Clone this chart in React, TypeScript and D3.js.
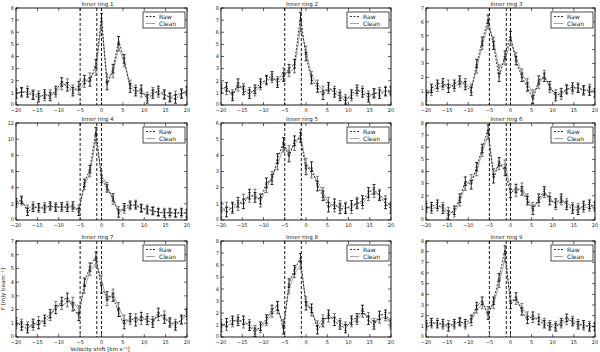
import React from 'react';
import * as d3 from 'd3';

// channel velocities (km/s)
const velocity = [-20, -18.7, -17.3, -16, -14.7, -13.3, -12, -10.7, -9.3, -8, -6.7, -5.3, -4, -2.7, -1.3, 0,
  1.3, 2.7, 4, 5.3, 6.7, 8, 9.3, 10.7, 12, 13.3, 14.7, 16, 17.3, 18.7, 20];

const raw1 = [0.9, 1.1, 1.0, 0.8, 0.6, 0.9, 0.7, 1.2, 1.9, 1.5, 1.1, 1.6, 2.1, 1.9, 3.4, 7.2, 1.6, 3.0, 5.3, 3.8, 1.4, 1.1, 1.3, 0.5, 0.9, 1.2, 0.9, 0.6, 0.5, 0.9, 1.2];
const clean1 = [1.0, 1.0, 1.2, 0.9, 0.8, 0.7, 0.9, 1.0, 1.6, 1.8, 1.3, 1.2, 1.8, 2.3, 2.8, 6.8, 2.2, 2.6, 4.8, 3.5, 1.7, 1.3, 1.0, 0.7, 1.1, 1.0, 0.8, 0.7, 0.8, 1.0, 1.1];
const raw2 = [1.3, 1.5, 0.7, 1.8, 1.2, 0.9, 1.3, 1.8, 2.1, 2.4, 1.8, 2.3, 3.0, 3.4, 7.3, 4.0, 2.1, 1.4, 0.8, 1.5, 1.0, 0.7, 0.3, 0.9, 1.3, 1.0, 0.6, 1.0, 0.9, 1.1, 1.2];
const clean2 = [1.5, 1.2, 0.9, 1.5, 1.4, 1.1, 1.1, 1.6, 2.0, 2.2, 2.0, 2.7, 2.7, 3.0, 6.4, 4.5, 2.4, 1.7, 1.2, 1.3, 1.2, 0.9, 0.5, 0.7, 1.1, 1.2, 0.8, 0.9, 1.1, 1.2, 1.1];
const raw3 = [0.6, 1.2, 1.5, 1.6, 1.2, 1.5, 1.8, 1.4, 1.0, 3.0, 4.6, 6.2, 4.3, 2.0, 3.6, 5.0, 3.2, 2.0, 1.3, 0.4, 1.8, 2.0, 1.4, 0.6, 0.9, 1.1, 1.3, 1.2, 1.1, 1.0, 0.9];
const clean3 = [0.8, 1.0, 1.3, 1.4, 1.5, 1.3, 1.6, 1.6, 1.2, 2.6, 4.3, 5.8, 4.6, 2.6, 3.2, 4.6, 3.5, 2.3, 1.6, 0.8, 1.5, 2.2, 1.2, 0.8, 0.7, 1.2, 1.1, 1.3, 1.0, 1.2, 0.8];
const raw4 = [2.2, 2.5, 1.0, 1.5, 1.6, 1.4, 1.8, 1.5, 1.7, 1.5, 1.8, 1.0, 4.6, 6.3, 11.0, 5.1, 3.9, 2.8, 0.8, 1.6, 1.9, 1.8, 1.5, 1.2, 1.1, 1.0, 0.8, 1.0, 0.8, 1.0, 0.8];
const clean4 = [2.0, 2.3, 1.4, 1.8, 1.4, 1.7, 1.6, 1.7, 1.5, 1.8, 1.5, 1.4, 4.2, 5.8, 10.0, 5.6, 4.2, 2.4, 1.2, 1.3, 1.7, 2.0, 1.4, 1.4, 1.2, 0.9, 1.0, 0.8, 0.9, 0.8, 0.9];
const raw5 = [0.8, 0.5, 0.8, 1.1, 1.0, 1.6, 1.4, 1.3, 2.3, 2.5, 3.8, 4.8, 3.9, 4.9, 5.1, 3.1, 3.3, 2.1, 1.5, 0.8, 1.0, 0.7, 0.7, 0.9, 1.0, 1.2, 1.7, 1.9, 1.5, 1.0, 0.7];
const clean5 = [0.5, 0.8, 0.7, 0.9, 1.3, 1.4, 1.6, 1.1, 2.0, 2.7, 3.4, 4.5, 4.3, 4.6, 5.3, 3.5, 2.9, 2.4, 1.7, 1.1, 0.8, 0.9, 0.8, 0.7, 1.1, 1.0, 1.5, 1.7, 1.6, 1.2, 0.8];
const raw6 = [1.0, 1.1, 1.3, 0.9, 0.4, 0.8, 1.8, 3.2, 2.9, 4.4, 5.9, 7.5, 3.4, 4.8, 4.0, 2.2, 2.6, 2.4, 1.6, 0.8, 1.8, 2.4, 1.6, 1.4, 1.8, 1.2, 0.9, 0.8, 1.2, 1.3, 1.1];
const clean6 = [1.2, 0.9, 1.1, 1.1, 0.7, 0.6, 1.5, 2.8, 3.4, 4.0, 5.6, 7.0, 3.9, 4.5, 4.6, 2.6, 2.3, 2.7, 1.8, 1.1, 1.5, 2.2, 1.9, 1.2, 1.6, 1.4, 1.1, 1.0, 1.0, 1.1, 1.2];
const raw7 = [1.1, 0.8, 0.6, 1.0, 0.9, 1.3, 1.7, 2.0, 2.6, 2.9, 2.2, 1.5, 4.0, 5.1, 5.9, 3.5, 3.0, 2.9, 1.8, 0.9, 1.4, 1.1, 1.5, 1.2, 1.0, 1.8, 1.3, 1.1, 0.8, 1.3, 1.8];
const clean7 = [0.9, 1.0, 0.8, 0.8, 1.2, 1.1, 1.5, 2.3, 2.3, 2.5, 2.6, 2.0, 3.5, 4.8, 5.4, 4.2, 2.6, 3.2, 2.2, 1.3, 1.2, 1.4, 1.2, 1.4, 1.2, 1.5, 1.6, 1.0, 1.0, 1.2, 1.6];
const raw8 = [0.8, 1.2, 1.4, 1.3, 1.4, 0.9, 0.4, 0.9, 1.5, 2.3, 2.6, 0.6, 4.5, 5.6, 6.6, 2.6, 2.4, 0.6, 1.2, 1.9, 1.3, 1.0, 0.7, 1.4, 1.6, 2.3, 1.4, 1.0, 1.8, 1.9, 1.2];
const clean8 = [1.1, 0.9, 1.2, 1.5, 1.1, 1.1, 0.6, 0.7, 1.3, 2.0, 2.3, 1.1, 4.0, 5.3, 6.0, 3.0, 2.1, 1.0, 1.5, 1.6, 1.6, 1.2, 0.9, 1.2, 1.4, 2.0, 1.7, 1.2, 1.5, 1.7, 1.0];
const raw9 = [1.2, 1.4, 1.2, 1.3, 0.9, 1.3, 1.4, 1.3, 1.7, 2.9, 3.4, 2.0, 3.4, 5.6, 8.2, 3.0, 3.8, 2.4, 1.6, 2.0, 1.5, 1.2, 1.0, 0.9, 1.4, 1.8, 1.4, 1.1, 1.2, 0.9, 1.0];
const clean9 = [1.0, 1.2, 1.4, 1.1, 1.2, 1.1, 1.5, 1.1, 1.4, 2.6, 3.0, 2.5, 3.0, 5.0, 7.4, 3.5, 3.4, 2.8, 2.0, 1.7, 1.8, 1.4, 1.2, 1.1, 1.2, 1.5, 1.6, 1.3, 1.0, 1.1, 0.9];

const rawSeries = [raw1, raw2, raw3, raw4, raw5, raw6, raw7, raw8, raw9];
const cleanSeries = [clean1, clean2, clean3, clean4, clean5, clean6, clean7, clean8, clean9];
const noise = [0.35, 0.35, 0.3, 0.45, 0.3, 0.35, 0.3, 0.35, 0.35];
const yMax = [8, 8, 7, 12, 6, 8, 7, 8, 9];
const yStep = [1, 1, 1, 2, 1, 1, 1, 1, 1];
const titles = ['Inner ring 1', 'Inner ring 2', 'Inner ring 3', 'Inner ring 4', 'Inner ring 5',
  'Inner ring 6', 'Inner ring 7', 'Inner ring 8', 'Inner ring 9'];
// reference velocities marked with dashed lines, per column
const markers = [[-5, -1.1, 0], [-5, -1.1], [-5, -1, 0]];

const colX = [[16, 187], [221, 391], [426, 595]];
const rowY = [[8, 105], [123, 220], [241, 337]];
const FONT = 'DejaVu Sans, sans-serif';

function Panel({ k }: { k: number }) {
  const r = Math.floor(k / 3);
  const c = k % 3;
  const [x0, x1] = colX[c];
  const [y0, y1] = rowY[r];
  const x = d3.scaleLinear().domain([-20, 20]).range([x0, x1]);
  const y = d3.scaleLinear().domain([0, yMax[k]]).range([y1, y0]);
  const line = d3.line<number>().x((_, i) => x(velocity[i])).y(d => y(d));
  const xt = d3.range(-20, 21, 5);
  const yt = d3.range(0, yMax[k] + 0.001, yStep[k]);
  const fmt = d3.format('d');
  const err = noise[k];

  const errorBars = (vals: number[], color: string) =>
    vals.map((v, i) => {
      const cx = x(velocity[i]);
      const ya = y(Math.max(0, v - err));
      const yb = y(v + err);
      return (
        <g key={i} stroke={color} strokeWidth={0.9}>
          <line x1={cx} x2={cx} y1={ya} y2={yb} />
          <line x1={cx - 1.5} x2={cx + 1.5} y1={ya} y2={ya} />
          <line x1={cx - 1.5} x2={cx + 1.5} y1={yb} y2={yb} />
        </g>
      );
    });

  return (
    <g>
      <defs>
        <clipPath id={`clip${k}`}>
          <rect x={x0} y={y0} width={x1 - x0} height={y1 - y0} />
        </clipPath>
      </defs>
      <g clipPath={`url(#clip${k})`}>
        {markers[c].map(m => (
          <line key={m} x1={x(m)} x2={x(m)} y1={y0} y2={y1} stroke="#000" strokeWidth={0.9} strokeDasharray="3,2" />
        ))}
        <path d={line(cleanSeries[k]) || ''} fill="none" stroke="#8a8a8a" strokeWidth={0.8} />
        {errorBars(cleanSeries[k], '#666')}
        <path d={line(rawSeries[k]) || ''} fill="none" stroke="#000" strokeWidth={0.8} strokeDasharray="2,1.5" />
        {errorBars(rawSeries[k], '#111')}
      </g>
      <rect x={x0} y={y0} width={x1 - x0} height={y1 - y0} fill="none" stroke="#000" strokeWidth={0.9} />
      {xt.map(t => (
        <g key={t}>
          <line x1={x(t)} x2={x(t)} y1={y1} y2={y1 - 3} stroke="#000" strokeWidth={0.6} />
          <line x1={x(t)} x2={x(t)} y1={y0} y2={y0 + 3} stroke="#000" strokeWidth={0.6} />
          <text x={x(t)} y={y1 + 6.5} fontSize={5} textAnchor="middle" fontFamily={FONT} fill="#222">{fmt(t)}</text>
        </g>
      ))}
      {yt.map(t => (
        <g key={t}>
          <line x1={x0} x2={x0 + 3} y1={y(t)} y2={y(t)} stroke="#000" strokeWidth={0.6} />
          <line x1={x1} x2={x1 - 3} y1={y(t)} y2={y(t)} stroke="#000" strokeWidth={0.6} />
          <text x={x0 - 2} y={y(t) + (t === 0 ? 1 : 1.8)} fontSize={5} textAnchor="end" fontFamily={FONT} fill="#222">{fmt(t)}</text>
        </g>
      ))}
      <text x={(x0 + x1) / 2 - 4} y={y0 - 2} fontSize={5.5} textAnchor="middle" fontFamily={FONT} fill="#222">{titles[k]}</text>
      <g>
        <rect x={x1 - 44} y={y0 + 4} width={42} height={16} fill="#fff" stroke="#000" strokeWidth={0.7} />
        <line x1={x1 - 41} x2={x1 - 32} y1={y0 + 8.5} y2={y0 + 8.5} stroke="#000" strokeWidth={0.8} strokeDasharray="2,1.5" />
        <text x={x1 - 28} y={y0 + 10.5} fontSize={6} fontFamily={FONT} fill="#222">Raw</text>
        <line x1={x1 - 41} x2={x1 - 32} y1={y0 + 15.5} y2={y0 + 15.5} stroke="#8a8a8a" strokeWidth={0.8} />
        <text x={x1 - 28} y={y0 + 17.5} fontSize={6} fontFamily={FONT} fill="#222">Clean</text>
      </g>
    </g>
  );
}

export default function App() {
  return (
    <>
      <style>{'body{margin:0}'}</style>
      <svg width={600} height={352} viewBox="0 0 600 352" style={{ display: 'block', background: '#fff' }}>
        {d3.range(9).map(k => <Panel key={k} k={k} />)}
        <text transform="translate(5,289) rotate(-90)" fontSize={5.5} textAnchor="middle" fontFamily={FONT} fill="#222">F [mJy beam⁻¹]</text>
        <text x={100} y={350.5} fontSize={5.5} textAnchor="middle" fontFamily={FONT} fill="#222">Velocity shift [km s⁻¹]</text>
      </svg>
    </>
  );
}
